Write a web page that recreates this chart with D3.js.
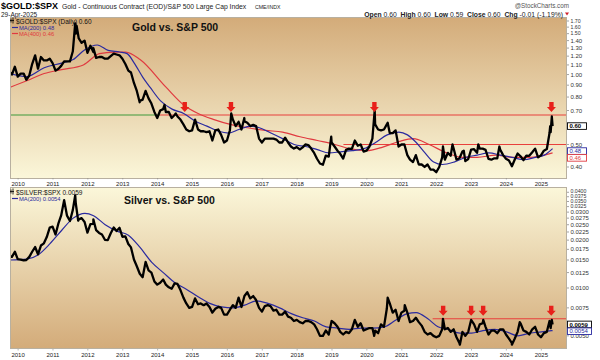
<!DOCTYPE html>
<html><head><meta charset="utf-8">
<script src="https://cdn.jsdelivr.net/npm/d3@7"></script>
<style>
body{margin:0;background:#fff}
svg{display:block}
text{font-family:"Liberation Sans",Arial,sans-serif}
</style>
</head><body>
<svg id="c" width="600" height="360"></svg>
<script>
// ---------------- DATA ----------------
// monthly closes, Oct 2009 .. Mar 2025
const goldMonthly = [
 1.00,1.08,0.98,
 1.01,1.01,0.95,0.99,1.11,1.21,1.06,1.19,1.15,1.15,1.17,1.12,
 1.04,1.06,1.09,1.14,1.14,1.14,1.26,1.50,1.43,1.37,1.40,1.24,
 1.33,1.25,1.18,1.19,1.19,1.17,1.17,1.20,1.23,1.22,1.21,1.17,
 1.11,1.04,1.02,0.92,0.85,0.77,0.78,0.85,0.79,0.75,0.69,0.65,
 0.70,0.71,0.69,0.69,0.65,0.67,0.66,0.64,0.61,0.58,0.57,0.575,
 0.64,0.58,0.57,0.57,0.565,0.57,0.52,0.575,0.58,0.55,0.51,0.52,
 0.576,0.64,0.60,0.626,0.58,0.63,0.62,0.60,0.607,0.60,0.53,0.51,
 0.53,0.53,0.53,0.53,0.525,0.51,0.51,0.535,0.51,0.49,0.48,0.487,
 0.476,0.486,0.50,0.497,0.48,0.46,0.434,0.414,0.409,0.448,0.443,0.51,
 0.49,0.47,0.456,0.435,0.474,0.48,0.479,0.52,0.494,0.50,0.466,0.47,
 0.49,0.53,0.61,0.58,0.575,0.58,0.61,0.56,0.56,0.575,0.49,0.50,
 0.50,0.45,0.43,0.42,0.45,0.41,0.41,0.40,0.41,0.39,0.39,0.38,
 0.40,0.44,0.43,0.46,0.447,0.48,0.43,0.436,0.466,0.424,0.433,0.475,
 0.477,0.46,0.48,0.48,0.474,0.433,0.43,0.436,0.436,0.476,0.45,0.434,
 0.427,0.403,0.43,0.457,0.445,0.428,0.448,0.447,0.463,0.48,0.44,0.449,
 0.47,0.478,0.56
];
const goldExtra = [
 ["2009-10-01",1.03],["2011-08-22",1.66],["2011-09-06",1.62],["2012-02-28",1.30],
 ["2013-06-27",0.76],["2014-03-14",0.74],["2014-07-10",0.68],["2016-02-11",0.68],
 ["2016-06-27",0.65],["2018-12-24",0.54],["2020-03-23",0.70],["2020-08-06",0.62],
 ["2022-03-08",0.49],["2022-06-16",0.50],["2022-10-12",0.47],["2023-03-13",0.50],
 ["2023-10-20",0.49],["2025-04-04",0.60],["2025-04-09",0.565],["2025-04-21",0.66],
 ["2025-04-29",0.60]
];
const goldMA200 = [
 ["2009-10-05",1.01],["2010-04-01",0.98],["2010-10-01",1.07],["2011-04-01",1.12],
 ["2011-08-01",1.16],["2011-12-01",1.28],["2012-04-10",1.34],["2012-08-01",1.27],
 ["2012-12-01",1.25],["2013-02-15",1.23],["2013-05-01",1.12],["2013-08-01",0.97],
 ["2013-10-15",0.88],["2014-02-01",0.77],["2014-06-01",0.71],["2014-10-01",0.68],
 ["2015-02-01",0.63],["2015-06-01",0.60],["2015-10-01",0.57],["2016-01-15",0.56],
 ["2016-05-01",0.58],["2016-09-01",0.60],["2016-12-01",0.59],["2017-04-01",0.56],
 ["2017-08-01",0.53],["2017-12-01",0.50],["2018-04-01",0.49],["2018-08-01",0.475],
 ["2018-12-01",0.46],["2019-04-01",0.465],["2019-08-01",0.47],["2019-12-01",0.48],
 ["2020-04-01",0.51],["2020-08-01",0.55],["2020-12-01",0.565],["2021-03-01",0.55],
 ["2021-06-01",0.51],["2021-09-01",0.46],["2021-12-01",0.42],["2022-03-01",0.41],
 ["2022-07-01",0.42],["2022-11-01",0.44],["2023-03-01",0.45],["2023-07-01",0.46],
 ["2023-11-01",0.45],["2024-03-01",0.44],["2024-07-01",0.43],["2024-11-01",0.44],
 ["2025-02-01",0.45],["2025-04-29",0.48]
];
const goldMA400 = [
 ["2009-10-05",0.88],["2010-04-01",0.94],["2010-10-01",1.01],["2011-04-01",1.05],
 ["2011-11-15",1.10],["2012-05-01",1.23],["2012-10-01",1.25],["2013-02-01",1.25],
 ["2013-07-01",1.16],["2014-04-01",0.88],["2014-10-01",0.74],["2015-03-01",0.68],
 ["2015-08-15",0.64],["2016-02-01",0.61],["2016-08-01",0.59],["2017-02-01",0.575],
 ["2017-08-01",0.565],["2018-02-01",0.54],["2018-08-01",0.52],["2019-02-01",0.50],
 ["2019-07-01",0.48],["2020-01-01",0.47],["2020-06-01",0.485],["2020-12-01",0.515],
 ["2021-05-01",0.53],["2021-10-15",0.50],["2022-04-15",0.46],["2022-10-01",0.44],
 ["2023-03-01",0.44],["2023-09-15",0.45],["2024-03-01",0.44],["2024-09-01",0.44],
 ["2025-04-29",0.46]
];
const goldLevels = [
 {value:0.67, from:"2009-10-01", to:"2014-01-25", color:"#3f9a3a"},
 {value:0.67, from:"2014-01-25", to:"2025-12-31", color:"#e8403c"},
 {value:0.50, from:"2019-05-01", to:"2025-12-31", color:"#e8403c"}
];
const goldArrows = ["2014-10-12","2016-02-08","2020-03-20","2025-04-17"];
const goldArrowLevel = 0.67;
const goldTicks = [0.40,0.50,0.70,0.80,0.90,1.00,1.10,1.20,1.30,1.40,1.50,1.60,1.70];

const silverMonthly = [
 0.0157,0.0169,0.0152,
 0.0151,0.0149,0.0150,0.0157,0.0169,0.0181,0.0163,0.0185,0.0191,0.0209,0.0240,0.0243,
 0.0217,0.0256,0.0286,0.0357,0.0285,0.0264,0.0310,0.0340,0.0270,0.0275,0.0260,0.0223,
 0.0252,0.0253,0.0231,0.0222,0.0217,0.0201,0.0200,0.0221,0.0240,0.0228,0.0239,0.0210,
 0.0211,0.0189,0.0180,0.0151,0.0137,0.0123,0.0117,0.0146,0.0129,0.0125,0.0110,0.0105,
 0.0108,0.0113,0.0105,0.0101,0.0099,0.0107,0.0106,0.0097,0.0087,0.0080,0.0075,0.0076,
 0.0086,0.0079,0.0080,0.0078,0.0080,0.0076,0.0070,0.0074,0.0076,0.0075,0.0068,0.0068,
 0.0073,0.0078,0.0075,0.0087,0.0076,0.0089,0.0094,0.0086,0.0089,0.0084,0.0075,0.0071,
 0.0077,0.0078,0.0077,0.0072,0.0073,0.0068,0.0068,0.0071,0.0066,0.0065,0.0062,0.0063,
 0.0061,0.0060,0.0062,0.0062,0.0061,0.0059,0.0055,0.0050,0.0050,0.0054,0.0051,0.0062,
 0.0060,0.0057,0.0053,0.0051,0.0053,0.0052,0.0055,0.0063,0.0057,0.0060,0.0054,0.0055,
 0.0056,0.0056,0.0054,0.0052,0.0059,0.0057,0.0074,0.0080,0.0070,0.0073,0.0062,0.0070,
 0.0072,0.0070,0.0061,0.0062,0.0065,0.0061,0.0058,0.0053,0.0051,0.0052,0.0050,0.0049,
 0.0050,0.0055,0.0055,0.0056,0.0053,0.0055,0.0049,0.0045,0.0053,0.0050,0.0053,0.0063,
 0.0059,0.0053,0.0059,0.0060,0.0057,0.0051,0.0054,0.0054,0.0052,0.0055,0.0055,0.0051,
 0.0048,0.0045,0.0048,0.0053,0.0060,0.0054,0.0053,0.0051,0.0055,0.0057,0.0051,0.0049,
 0.0052,0.0053,0.0062
];
const silverExtra = [
 ["2009-10-01",0.0158],["2011-08-22",0.0383],["2011-09-22",0.0265],["2012-02-28",0.0270],
 ["2020-03-18",0.0050],["2020-08-06",0.0087],["2021-02-01",0.0078],["2022-03-08",0.0064],
 ["2022-09-01",0.0044],["2023-05-04",0.0063],["2024-02-28",0.0044],["2024-05-20",0.0061],
 ["2025-04-04",0.0058],["2025-04-09",0.0056],["2025-04-21",0.0063],["2025-04-29",0.0059]
];
const silverMA200 = [
 ["2009-10-05",0.0150],["2010-04-01",0.0152],["2010-08-01",0.0162],["2010-12-01",0.0190],
 ["2011-04-01",0.0230],["2011-08-01",0.0275],["2011-12-01",0.0295],["2012-03-01",0.0285],
 ["2012-07-01",0.0250],["2012-11-01",0.0228],["2013-03-01",0.0215],["2013-07-01",0.0180],
 ["2013-11-01",0.0145],["2014-03-01",0.0125],["2014-07-01",0.0108],["2014-11-01",0.0098],
 ["2015-03-01",0.0088],["2015-07-01",0.0080],["2015-11-01",0.0076],["2016-03-01",0.0075],
 ["2016-07-01",0.0078],["2016-11-01",0.0083],["2017-03-01",0.0080],["2017-07-01",0.0075],
 ["2017-11-01",0.0069],["2018-03-01",0.0065],["2018-07-01",0.0062],["2018-11-01",0.0057],
 ["2019-03-01",0.0056],["2019-07-01",0.0055],["2019-11-01",0.0056],["2020-03-01",0.0056],
 ["2020-07-01",0.0057],["2020-11-01",0.0063],["2021-03-01",0.0069],["2021-06-01",0.0070],
 ["2021-10-01",0.0064],["2022-01-15",0.0057],["2022-05-01",0.0055],["2022-09-01",0.0052],
 ["2023-01-01",0.0052],["2023-05-01",0.0054],["2023-09-01",0.0055],["2024-01-01",0.0053],
 ["2024-05-01",0.0050],["2024-09-01",0.0052],["2025-01-01",0.0053],["2025-04-29",0.0054]
];
const silverLevels = [
 {value:0.0064, from:"2021-11-20", to:"2025-12-31", color:"#e8403c"}
];
const silverArrows = ["2022-03-10","2022-12-28","2023-05-03","2025-04-15"];
const silverArrowLevel = 0.0064;
const silverTicks = [0.0050,0.0075,0.0100,0.0125,0.0150,0.0175,0.0200,0.0225,0.0250,0.0275,0.0300,0.0325,0.0350,0.0375,0.0400];
const years = d3.range(2010, 2026);

// ---------------- DRAW ----------------
const svg = d3.select("#c");
const parse = d3.timeParse("%Y-%m-%d");
const L = 10, R = 567;
const x = d3.scaleTime().domain([new Date(2009,9,8), new Date(2025,8,27)]).range([L, R]);

function series(monthly, extra){
  const pts = monthly.map((v,i)=>({d:new Date(2009,9+i,28), v}));
  extra.forEach(([s,v])=>pts.push({d:parse(s), v}));
  return pts.sort((a,b)=>a.d-b.d);
}
const pairs = arr => arr.map(([s,v])=>({d:parse(s), v}));

const defs = svg.append("defs");
function grad(id, c1, c2){
  const g = defs.append("linearGradient").attr("id",id).attr("x1",0).attr("x2",0).attr("y1",0).attr("y2",1);
  g.append("stop").attr("offset","0%").attr("stop-color",c1);
  g.append("stop").attr("offset","100%").attr("stop-color",c2);
}
grad("gTop","#d3ab79","#fbf7da");
grad("gBot","#fbf7da","#d3ab79");

function panel(o){
  const {top, bottom, y, price, ma, levels, arrows, arrowLevel, ticks, fmt, gradId, clipId} = o;
  defs.append("clipPath").attr("id",clipId).append("rect")
    .attr("x",L).attr("y",top).attr("width",R-L).attr("height",bottom-top);
  svg.append("rect").attr("x",L).attr("y",top).attr("width",R-L).attr("height",bottom-top)
    .attr("fill",`url(#${gradId})`);
  const g = svg.append("g").attr("clip-path",`url(#${clipId})`);
  levels.forEach(l=>{
    g.append("line").attr("x1",x(parse(l.from))).attr("x2",x(parse(l.to)))
      .attr("y1",y(l.value)).attr("y2",y(l.value))
      .attr("stroke",l.color).attr("stroke-width",1.1);
  });
  ma.forEach(m=>{
    g.append("path").datum(m.data)
      .attr("d", d3.line().x(d=>x(d.d)).y(d=>y(d.v)).curve(d3.curveMonotoneX))
      .attr("fill","none").attr("stroke",m.color).attr("stroke-width",1.2);
  });
  g.append("path").datum(price)
    .attr("d", d3.line().x(d=>x(d.d)).y(d=>y(d.v)))
    .attr("fill","none").attr("stroke","#000").attr("stroke-width",2.3)
    .attr("stroke-linejoin","round");
  arrows.forEach(s=>{
    const ax = x(parse(s)), ay = y(arrowLevel) - 3;
    g.append("path")
      .attr("d",`M${ax},${ay} l-4.5,-5 l2.3,0 l0,-5 l4.4,0 l0,5 l2.3,0 Z`)
      .attr("fill","#e8201a");
  });
  svg.append("rect").attr("x",L+0.5).attr("y",top+0.5).attr("width",R-L-1).attr("height",bottom-top-1)
    .attr("fill","none").attr("stroke","#b8b0a0").attr("stroke-width",1);
  const ax = svg.append("g");
  const tickYs = [];
  // labels from bottom to top, keeping a minimum spacing in the crowded top part
  const sorted = ticks.slice().sort((a,b)=>a-b);
  let prevLy = 1e9;
  sorted.forEach(t=>{
    const ty = y(t);
    tickYs.push(ty);
    const fs = (ty - top) < 20 ? 5.2 : 6;
    const ly = Math.min(ty, prevLy - 5.1);
    prevLy = ly;
    ax.append("line").attr("x1",R).attr("x2",R+2).attr("y1",ty).attr("y2",ty).attr("stroke","#666").attr("stroke-width",0.6);
    ax.append("text").attr("x",R+3.5).attr("y",ly+fs*0.35).attr("font-size",fs).attr("fill","#333").text(fmt(t));
  });
  let prev = -100;
  o.boxes.forEach(b=>{
    let cy = Math.max(y(b.value), prev + 6.8);
    if (!b.bold) {
      tickYs.forEach(ty=>{ if (Math.abs(cy-ty) < 6.6 && ty < cy) cy = ty + 6.6; });
    }
    prev = cy;
    ax.append("rect").attr("x",R+0.5).attr("y",cy-3.3).attr("width",b.w).attr("height",6.6)
      .attr("fill","#fff").attr("stroke",b.color).attr("stroke-width",0.9);
    ax.append("text").attr("x",R+2.5).attr("y",cy+2.2).attr("font-size",6)
      .attr("font-weight",b.bold?"bold":"normal").attr("fill",b.bold?"#000":b.color).text(fmt(b.value));
  });
}

const yGold = d3.scaleLog().domain([0.3551,1.769]).range([179,17]);
const ySilver = d3.scaleLog().domain([0.004134,0.04317]).range([349,187]);
const goldPrice = series(goldMonthly, goldExtra);
const silverPrice = series(silverMonthly, silverExtra);
const gMA200 = pairs(goldMA200), gMA400 = pairs(goldMA400), sMA200 = pairs(silverMA200);
const last = a => a[a.length-1].v;

panel({top:17,bottom:179,y:yGold,price:goldPrice,
  ma:[{data:gMA400,color:"#e03a40"},{data:gMA200,color:"#2a2aa0"}],
  levels:goldLevels,arrows:goldArrows,arrowLevel:goldArrowLevel,ticks:goldTicks,
  fmt:d3.format(".2f"),gradId:"gTop",clipId:"cTop",
  boxes:[{value:last(goldPrice),color:"#000",bold:true,w:19},
         {value:last(gMA200),color:"#2a2aa0",w:19},
         {value:last(gMA400),color:"#e03a40",w:19}]});
panel({top:187,bottom:349,y:ySilver,price:silverPrice,
  ma:[{data:sMA200,color:"#2a2aa0"}],
  levels:silverLevels,arrows:silverArrows,arrowLevel:silverArrowLevel,ticks:silverTicks,
  fmt:d3.format(".4f"),gradId:"gBot",clipId:"cBot",
  boxes:[{value:last(silverPrice),color:"#000",bold:true,w:24},
         {value:last(sMA200),color:"#2a2aa0",w:24}]});

[186, 357].forEach(by=>{
  years.forEach(yr=>{
    const xx = x(new Date(yr,0,1));
    svg.append("line").attr("x1",xx).attr("x2",xx).attr("y1",by-8).attr("y2",by-6.5).attr("stroke","#888").attr("stroke-width",0.6);
    svg.append("text").attr("x",xx).attr("y",by).attr("text-anchor","middle")
      .attr("font-size",6).attr("fill","#222").text(yr);
  });
});

svg.append("text").attr("x",1).attr("y",9).attr("font-size",9).attr("font-weight","bold").text("$GOLD:$SPX");
svg.append("text").attr("x",62).attr("y",9).attr("font-size",6.8).attr("fill","#222")
  .text("Gold - Continuous Contract (EOD)/S&P 500 Large Cap Index");
svg.append("text").attr("x",255).attr("y",9).attr("font-size",5.2).attr("fill","#222").text("CME/INDX");
svg.append("text").attr("x",1).attr("y",16.5).attr("font-size",6.5).attr("fill","#222").text("29-Apr-2025");
svg.append("text").attr("x",569).attr("y",7.5).attr("text-anchor","end").attr("font-size",6.3).attr("fill","#555").text("@StockCharts.com");
const hd = svg.append("text").attr("x",563).attr("y",16.5).attr("text-anchor","end").attr("font-size",6.8).attr("fill","#222");
[["Open"," 0.60  "],["High"," 0.60  "],["Low"," 0.59  "],["Close"," 0.60  "],["Chg"," -0.01 (-1.19%)"]].forEach(([a,b])=>{
  hd.append("tspan").attr("font-weight","bold").text(a);
  hd.append("tspan").attr("xml:space","preserve").text(b);
});
svg.append("path").attr("d","M565,12.5 l4,0 l-2,3 Z").attr("fill","#d0202a");

function legend(yTop, title, name, mas){
  const icon = svg.append("g").attr("stroke","#000").attr("stroke-width",0.8);
  icon.append("line").attr("x1",11).attr("x2",11).attr("y1",yTop-5).attr("y2",yTop-1);
  icon.append("line").attr("x1",13).attr("x2",13).attr("y1",yTop-6).attr("y2",yTop);
  icon.append("line").attr("x1",10).attr("x2",14).attr("y1",yTop-3).attr("y2",yTop-3);
  svg.append("text").attr("x",16).attr("y",yTop).attr("font-size",6.5)
    .attr("font-family","'DejaVu Sans Mono',monospace").attr("fill","#111").text(name);
  mas.forEach((m,i)=>{
    const yy = yTop + 6 + i*6;
    svg.append("line").attr("x1",12).attr("x2",18).attr("y1",yy-2).attr("y2",yy-2).attr("stroke",m.color).attr("stroke-width",1.2);
    svg.append("text").attr("x",19).attr("y",yy).attr("font-size",5.8).attr("fill",m.color).text(m.label);
  });
  svg.append("text").attr("x",title.x).attr("y",title.y).attr("font-size",10.5).attr("font-weight","bold")
    .attr("fill","#111").text(title.text);
}
legend(23.5, {x:132,y:31,text:"Gold vs. S&P 500"}, `$GOLD:$SPX (Daily) ${d3.format(".2f")(last(goldPrice))}`,
  [{color:"#2a2aa0",label:`MA(200) ${d3.format(".2f")(last(gMA200))}`},
   {color:"#e03a40",label:`MA(400) ${d3.format(".2f")(last(gMA400))}`}]);
legend(194.5, {x:124,y:204,text:"Silver vs. S&P 500"}, `$SILVER:$SPX ${d3.format(".4f")(last(silverPrice))}`,
  [{color:"#2a2aa0",label:`MA(200) ${d3.format(".4f")(last(sMA200))}`}]);
</script>
</body></html>
